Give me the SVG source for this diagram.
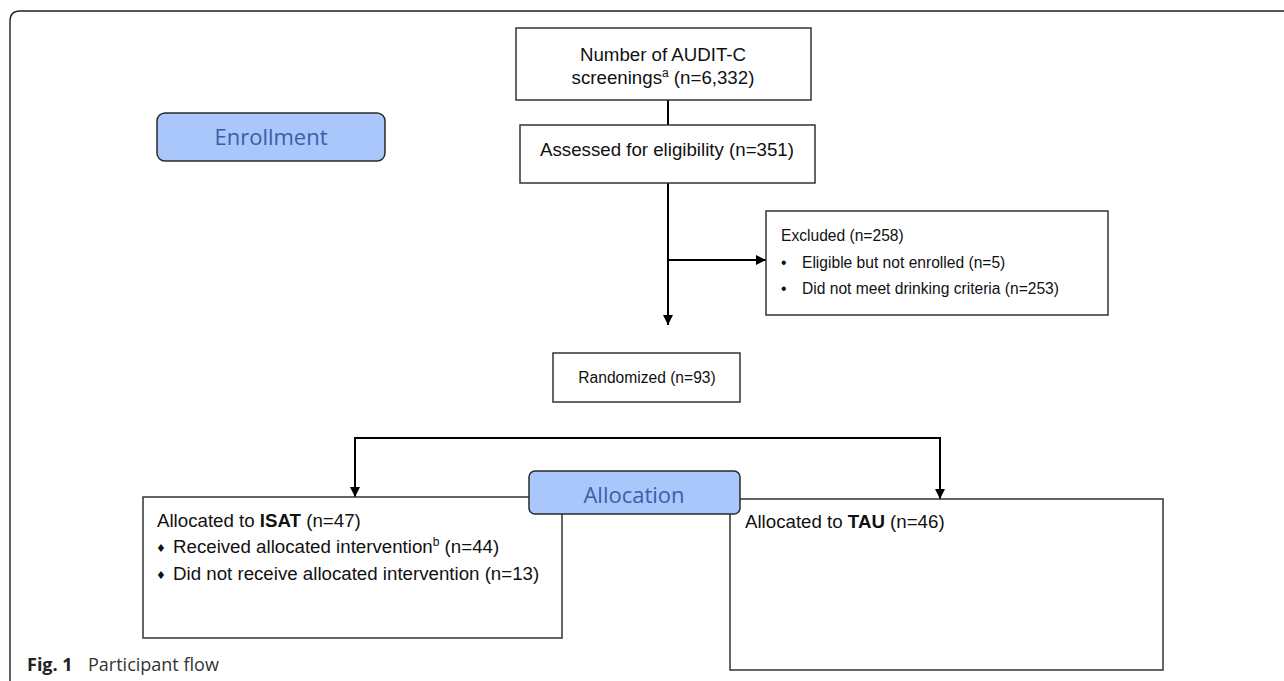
<svg xmlns="http://www.w3.org/2000/svg" width="1284" height="681" viewBox="0 0 1284 681">
<style>
.box{fill:#fff;stroke:#333;stroke-width:1.5}
.stage{fill:#a9c7fa;stroke:#2a2a2a;stroke-width:1.5}
.stxt{font-family:"Open Sans","Liberation Sans",sans-serif;font-size:22px;fill:#3b5ea8;text-anchor:middle}
.t{font-family:"Liberation Sans",Arial,sans-serif;font-size:18.7px;fill:#111}
.s{font-size:15.6px}
.c{text-anchor:middle}
.sup{font-size:12px}
.dia{font-family:"DejaVu Sans",sans-serif;font-size:11px}
.con{stroke:#000;stroke-width:2;fill:none}
.frame{stroke:#222;stroke-width:1.4;fill:none}
.cap{font-family:"Open Sans","Liberation Sans",sans-serif;font-size:18px;fill:#333}
</style>
<defs>
<marker id="ah" markerUnits="userSpaceOnUse" markerWidth="10" markerHeight="10" refX="10" refY="5" orient="auto">
<path d="M0,0 L10,5 L0,10 z" fill="#000"/>
</marker>
</defs>
<path class="frame" d="M10,681 L10,21 Q10,11 20,11 L1284,11"/>
<g id="connectors">
<line class="con" x1="668" y1="100" x2="668" y2="125"/>
<line class="con" x1="668" y1="183" x2="668" y2="325" marker-end="url(#ah)"/>
<line class="con" x1="668" y1="260" x2="766" y2="260" marker-end="url(#ah)"/>
<polyline class="con" points="355,470 355,438 940,438 940,470"/>
<line class="con" x1="355" y1="470" x2="355" y2="497" marker-end="url(#ah)"/>
<line class="con" x1="940" y1="470" x2="940" y2="499" marker-end="url(#ah)"/>
</g>
<g id="enrollment">
<rect class="stage" x="157" y="113" width="228" height="48" rx="8"/>
<text class="stxt" x="271" y="145">Enrollment</text>
</g>
<g id="screenings">
<rect class="box" x="516" y="28" width="295" height="72"/>
<text class="t c" x="663" y="61">Number of AUDIT-C</text>
<text class="t c" x="663" y="84">screenings<tspan class="sup" dy="-7">a</tspan><tspan dy="7"> (n=6,332)</tspan></text>
</g>
<g id="assessed">
<rect class="box" x="520" y="125" width="295" height="58"/>
<text class="t c" x="667" y="156">Assessed for eligibility (n=351)</text>
</g>
<g id="excluded">
<rect class="box" x="766" y="211" width="342" height="104"/>
<text class="t s" x="781" y="241">Excluded (n=258)</text>
<text class="t s" x="781" y="268">•</text>
<text class="t s" x="802" y="268">Eligible but not enrolled (n=5)</text>
<text class="t s" x="781" y="294">•</text>
<text class="t s" x="802" y="294">Did not meet drinking criteria (n=253)</text>
</g>
<g id="randomized">
<rect class="box" x="553" y="353" width="187" height="49"/>
<text class="t s c" x="647" y="383">Randomized (n=93)</text>
</g>
<g id="isat">
<rect class="box" x="143" y="497" width="419" height="141"/>
<text class="t" x="157" y="527">Allocated to <tspan font-weight="bold">ISAT</tspan> (n=47)</text>
<text class="t dia" x="156" y="552">♦</text>
<text class="t" x="173" y="553">Received allocated intervention<tspan class="sup" dy="-7">b</tspan><tspan dy="7"> (n=44)</tspan></text>
<text class="t dia" x="156" y="579">♦</text>
<text class="t" x="173" y="580">Did not receive allocated intervention (n=13)</text>
</g>
<g id="tau">
<rect class="box" x="730" y="499" width="433" height="171"/>
<text class="t" x="745" y="528">Allocated to <tspan font-weight="bold">TAU</tspan> (n=46)</text>
</g>
<g id="allocation">
<rect class="stage" x="529" y="471" width="211" height="43" rx="6"/>
<text class="stxt" x="634" y="503">Allocation</text>
</g>
<text class="cap" x="27" y="671"><tspan font-weight="bold" fill="#222">Fig. 1</tspan><tspan x="88">Participant flow</tspan></text>
</svg>
